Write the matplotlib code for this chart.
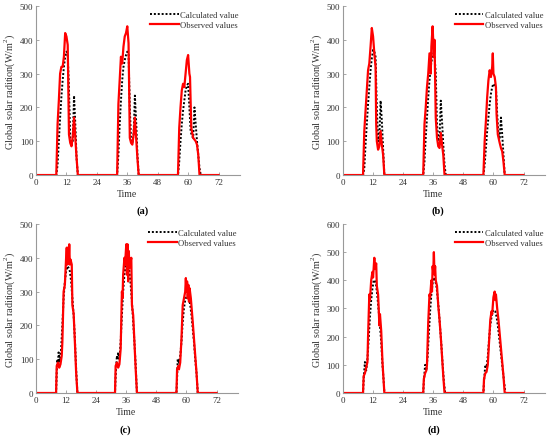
import matplotlib
matplotlib.use('Agg')
import matplotlib.pyplot as plt

plt.rcParams['font.family'] = ['Liberation Serif', 'DejaVu Serif']
plt.rcParams['mathtext.fontset'] = 'custom'
plt.rcParams['mathtext.rm'] = 'Liberation Serif'

# ---- data (time in h, radiation in W/m2) ----
# panel (a)
a_calc_t = [0, 8, 8.5, 9, 9.5, 10, 10.5, 11, 11.5, 12, 12.5, 13, 13.5, 14, 14.5, 15, 15.5, 16, 16.5,
            32, 32.5, 33, 33.5, 34, 34.5, 35, 35.5, 36, 36.5, 37, 37.5, 38, 38.5, 39, 39.5, 40, 40.5,
            56, 56.5, 57, 57.5, 58, 58.5, 59, 59.5, 60, 60.5, 61, 61.5, 62, 62.5, 63, 63.5, 64, 64.5, 65, 72]
a_calc_v = [0, 0, 30, 100, 170, 230, 280, 320, 350, 365, 360, 250, 110, 90, 100, 235, 150, 50, 0,
            0, 60, 150, 220, 280, 320, 340, 355, 365, 360, 200, 100, 95, 120, 235, 160, 60, 0,
            0, 40, 100, 150, 190, 220, 250, 265, 270, 200, 130, 115, 110, 200, 150, 100, 60, 20, 0, 0]
a_obs_t = [0, 8, 8.5, 9, 9.5, 10, 10.5, 11, 11.5, 12, 12.5, 13, 13.5, 14, 14.5, 15, 15.5, 16, 16.5,
           32, 32.5, 33, 33.5, 34, 34.5, 35, 35.5, 36, 36.5, 37, 37.5, 38, 38.5, 39, 39.5, 40, 40.5,
           56, 56.5, 57, 57.5, 58, 58.5, 59, 59.5, 60, 60.5, 60.75, 61.25, 62, 62.5, 63, 63.5, 64, 64.5, 72]
a_obs_v = [0, 0, 150, 220, 300, 320, 320, 350, 420, 410, 385, 120, 95, 85, 115, 170, 110, 50, 0,
           0, 210, 280, 350, 330, 380, 410, 420, 440, 390, 110, 95, 90, 120, 170, 110, 50, 0,
           0, 140, 200, 250, 270, 260, 300, 340, 355, 300, 290, 140, 110, 105, 100, 90, 60, 0, 0]

# panel (b)
b_calc_t = [0, 8, 8.5, 9, 9.5, 10, 10.5, 11, 11.5, 12, 12.5, 13, 13.5, 14, 14.5, 15, 15.5, 16, 16.5,
            32, 32.5, 33, 33.5, 34, 34.5, 35, 35.5, 36, 36.5, 37, 37.5, 38, 38.5, 39, 39.5, 40, 40.5, 41,
            56, 56.5, 57, 57.5, 58, 58.5, 59, 59.5, 60, 60.5, 61, 61.5, 62, 62.5, 63, 63.5, 64, 64.5, 72]
b_calc_v = [0, 0, 20, 90, 150, 210, 260, 310, 345, 370, 365, 350, 200, 100, 110, 220, 160, 80, 0,
            0, 40, 110, 170, 230, 280, 320, 345, 360, 355, 300, 150, 100, 110, 220, 160, 90, 30, 0,
            0, 30, 80, 130, 170, 210, 240, 260, 270, 265, 260, 180, 120, 110, 170, 120, 60, 0, 0]
b_obs_t = [0, 8, 8.5, 9, 9.5, 10, 10.5, 11, 11.5, 12, 12.5, 13, 13.25, 13.5, 14, 14.5, 15, 15.5, 16, 16.5,
           32, 32.5, 33, 33.5, 34, 34.5, 35, 35.25, 35.75, 36.25, 36.5, 37, 37.5, 38, 38.5, 39, 39.5, 40, 40.5,
           56, 56.5, 57, 57.5, 58, 58.5, 59, 59.5, 59.75, 60, 60.5, 61, 61.25, 61.75, 62.5, 63, 63.5, 64, 64.5, 72]
b_obs_v = [0, 0, 130, 190, 250, 310, 330, 380, 435, 410, 360, 320, 150, 100, 75, 85, 130, 90, 60, 0,
           0, 150, 200, 260, 300, 360, 300, 380, 440, 350, 400, 170, 110, 85, 80, 125, 90, 60, 0,
           0, 100, 160, 230, 280, 310, 290, 320, 360, 300, 290, 260, 180, 120, 95, 80, 70, 40, 0, 0]

# panel (c)
c_calc_t = [0, 8, 8.25, 8.5, 8.75, 9, 9.5, 10, 10.5, 11, 11.5, 12, 12.5, 13, 13.5, 14, 14.5, 15, 15.5, 16, 16.5,
            31.5, 31.75, 32.25, 32.5, 32.75, 33.25, 33.75, 34.25, 34.75, 35.25, 35.75, 36.25, 36.75, 37.25,
            37.75, 38.25, 38.75, 39.25, 39.75, 40.25,
            56, 56.25, 56.5, 57, 57.5, 58, 58.5, 59, 59.5, 60, 60.5, 61, 61.5, 62, 62.5, 63, 63.5, 64, 64.5, 72]
c_calc_v = [0, 0, 60, 100, 90, 120, 90, 130, 200, 280, 330, 360, 375, 370, 360, 330, 280, 230, 160, 70, 0,
            0, 50, 110, 100, 120, 100, 150, 230, 300, 350, 380, 390, 380, 360,
            320, 270, 210, 150, 80, 0,
            0, 40, 100, 90, 110, 150, 210, 250, 275, 285, 290, 280, 260, 230, 190, 150, 100, 60, 0, 0]
c_obs_t = [0, 8, 8.25, 8.75, 9.25, 9.75, 10.25, 10.5, 11, 11.5, 11.75, 12, 12.25, 12.5, 12.75, 13, 13.25,
           13.5, 13.75, 14.25, 14.5, 15, 15.5, 16, 16.5,
           31.5, 31.75, 32.25, 32.75, 33.25, 33.75, 34.25, 34.5, 34.75, 35.25, 35.5, 36, 36.25, 36.5, 36.75,
           37, 37.25, 37.75, 38, 38.25, 38.75, 39.25, 39.75, 40.25,
           56, 56.25, 56.75, 57, 57.5, 58, 58.5, 59, 59.5, 59.75, 60, 60.25, 60.5, 60.75, 61, 61.25, 61.75,
           62.5, 63, 63.5, 64, 64.5, 72]
c_obs_v = [0, 0, 80, 90, 75, 85, 110, 150, 300, 320, 360, 400, 430, 380, 430, 390, 440,
           380, 395, 380, 260, 235, 150, 60, 0,
           0, 80, 90, 75, 85, 130, 300, 280, 350, 400, 380, 440, 350, 440, 330,
           420, 370, 390, 400, 260, 230, 150, 70, 0,
           0, 70, 80, 70, 90, 160, 260, 280, 300, 340, 300, 330, 280, 320, 270, 310, 280,
           210, 160, 110, 60, 0, 0]

# panel (d)
d_calc_t = [0, 8, 8.25, 8.75, 9.25, 9.75, 10.25, 10.75, 11.25, 11.75, 12.25, 12.75, 13.25, 13.75, 14.25,
            14.75, 15.25, 15.75, 16.25, 16.5,
            32, 32.25, 32.75, 33.25, 33.75, 34.25, 34.75, 35.25, 35.75, 36.25, 36.75, 37.25, 37.75, 38.25,
            38.75, 39.25, 39.75, 40.25, 40.75,
            56, 56.25, 56.75, 57.25, 57.75, 58.25, 58.75, 59.25, 59.75, 60.25, 60.75, 61.25, 61.75, 62.25,
            62.75, 63.25, 63.75, 64.25, 64.75, 72]
d_calc_v = [0, 0, 50, 110, 80, 120, 190, 270, 330, 370, 400, 400, 380, 340, 290,
            240, 180, 100, 40, 0,
            0, 40, 100, 80, 130, 210, 290, 350, 390, 410, 400, 380, 340, 290,
            230, 170, 100, 40, 0,
            0, 40, 100, 90, 130, 190, 240, 270, 290, 295, 290, 270, 240, 200,
            160, 120, 80, 40, 0, 0]
d_obs_t = [0, 8, 8.25, 8.75, 9.25, 9.75, 10, 10.5, 10.75, 11.25, 11.75, 12, 12.5, 12.75, 13.25, 13.5, 14,
           14.25, 14.5, 14.75, 15.25, 15.75, 16.5,
           32, 32.25, 32.75, 33.25, 33.5, 34, 34.5, 34.75, 35.25, 35.5, 35.75, 36, 36.25, 36.5, 36.75, 37,
           37.5, 38, 38.5, 39, 39.5, 40, 40.5,
           56, 56.25, 56.75, 57.25, 57.75, 58.25, 58.75, 59.25, 59.5, 60, 60.25, 60.5, 60.75, 61, 61.5, 62,
           62.5, 63, 63.5, 64, 64.5, 72]
d_obs_v = [0, 0, 60, 70, 90, 110, 200, 350, 330, 400, 430, 410, 480, 440, 460, 380, 350,
           300, 240, 280, 220, 110, 0,
           0, 50, 70, 80, 100, 250, 350, 340, 400, 360, 450, 430, 500, 420, 450, 400,
           380, 310, 260, 200, 130, 60, 0,
           0, 50, 70, 75, 100, 180, 260, 290, 280, 340, 350, 360, 330, 350, 300, 260,
           210, 160, 110, 60, 0, 0]

panels = [
    ('(a)', a_calc_t, a_calc_v, a_obs_t, a_obs_v, 500),
    ('(b)', b_calc_t, b_calc_v, b_obs_t, b_obs_v, 500),
    ('(c)', c_calc_t, c_calc_v, c_obs_t, c_obs_v, 500),
    ('(d)', d_calc_t, d_calc_v, d_obs_t, d_obs_v, 600),
]
x_ticks = [0, 12, 24, 36, 48, 60, 72]

# axes boxes in figure fractions, and where the (a)..(d) tags sit
boxes = [[0.0655, 0.599, 0.371, 0.385],
         [0.6236, 0.599, 0.367, 0.385],
         [0.0655, 0.1025, 0.367, 0.385],
         [0.6236, 0.1025, 0.367, 0.385]]
tag_pos = [(0.26, 0.519), (0.796, 0.519), (0.227, 0.02), (0.789, 0.02)]

grey = '#999999'
txt = '#333333'

fig = plt.figure(figsize=(5.5, 4.39), dpi=100)
for (tag, ct, cv, ot, ov, ytop), box, tp in zip(panels, boxes, tag_pos):
    ax = fig.add_axes(box)
    ax.plot(ct, cv, color='black', linestyle=(0, (1, 1)), linewidth=1.4, label='Calculated value')
    ax.plot(ot, ov, color='#ff0000', linestyle='-', linewidth=1.6, label='Observed values')
    ax.set_xlim(0, 80.5)
    ax.set_ylim(0, ytop)
    ax.set_xticks(x_ticks)
    ax.set_yticks(range(0, ytop + 1, 100))
    for s in ['top', 'right']:
        ax.spines[s].set_visible(False)
    for s in ['left', 'bottom']:
        ax.spines[s].set_color(grey)
        ax.spines[s].set_linewidth(0.8)
    ax.tick_params(direction='in', length=2, width=0.6, color=grey,
                   labelsize=6.5, labelcolor=txt, pad=2)
    ax.set_xlabel('Time', fontsize=7, color=txt)
    ax.xaxis.set_label_coords(36 / 80.5, -0.085)
    ax.set_ylabel('Global solar radition(W/m$^2$)', fontsize=7.3, color=txt, labelpad=2)
    leg = ax.legend(loc='upper right', bbox_to_anchor=(1.02, 1.0), frameon=False, fontsize=6.2,
                    handlelength=3.3, handletextpad=0.2, labelspacing=0.25, borderaxespad=0.2)
    for t in leg.get_texts():
        t.set_color(txt)
    fig.text(tp[0], tp[1], tag, fontsize=7.5, fontweight='bold', ha='center', va='center', color='black')

fig.savefig('out.png', dpi=100)
